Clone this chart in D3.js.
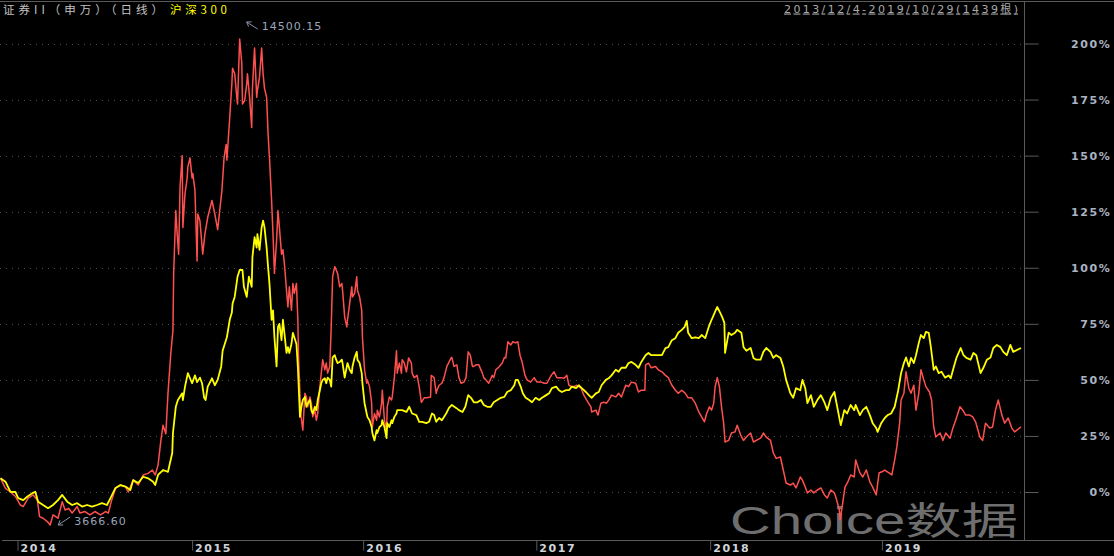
<!DOCTYPE html>
<html>
<head>
<meta charset="utf-8">
<script src="https://cdn.jsdelivr.net/npm/d3@7"></script>
<style>
  body { margin: 0; background: #000; }
  svg { display: block; }
</style>
</head>
<body>
<div id="chart"></div>
<script>
// percent change as [trading day index, value]
const securitiesII = [[0,6.1],[7,1.6],[14,0],[21,-2],[28,-5.8],[32,-6.5],[39,-2.7],[46,-1.3],[52,-3.6],[55,-11],[60,-11.7],[66,-13.2],[70,-14.7],[74,-10.2],[81,-11.7],[87,-4.3],[91,-8],[96,-7.3],[101,-9.4],[108,-6.5],[112,-9.4],[119,-8.7],[126,-10.2],[133,-8.7],[141,-10.2],[148,-8.7],[152,-9.4],[156,-4.3],[162,1.6],[169,3.1],[176,2.4],[180,0],[187,5.3],[194,3.1],[201,7.6],[208,8.3],[214,9.8],[218,7.6],[222,12],[226,23],[229,29.8],[233,26],[236,44],[240,62],[243,72],[244,97.5],[247,125.5],[249,115],[251,106],[253,136],[256,150],[257,118],[260,133],[263,140],[264,145],[267,149],[270,140],[271,142],[274,134.5],[277,103],[278,124],[281,121],[285,106],[288,115],[292,122.5],[298,130],[302,124],[306,117],[312,134.5],[315,149],[318,155],[319,148],[323,167],[326,182],[327,189],[330,186.5],[333,176],[334,173],[337,202],[340,191],[341,173],[344,174.5],[347,182],[348,186.5],[351,176],[354,162.5],[355,180],[358,198],[361,176],[362,179],[365,185],[368,198],[370,186.5],[372,180],[375,176],[377,160],[379,149],[382,130],[384,115],[386,97.5],[389,112],[391,125.5],[393,118],[396,106],[398,108],[400,102],[403,90],[405,82.5],[407,91.5],[410,81],[412,93],[414,88.6],[417,93],[419,76.8],[420,60],[423,35],[426,27.6],[429,44],[431,42.4],[433,38],[436,42.4],[438,39.6],[440,33.5],[443,36.5],[445,32],[447,35],[450,47],[452,53],[454,59],[457,54.5],[459,57.5],[461,53],[464,56],[466,73.6],[468,96],[471,100.5],[473,99],[475,97.5],[478,91.5],[481,93],[482,90],[485,78],[488,73.6],[489,76.8],[492,84],[495,91.5],[496,87],[499,88.6],[502,96],[503,90],[506,87],[509,81],[510,69],[513,54.5],[516,48.5],[517,50],[520,47],[523,39.6],[524,29],[527,35],[530,32],[531,36.5],[534,33.5],[537,39.6],[538,45.4],[541,32],[544,27.6],[545,38],[548,42.4],[551,41],[552,42.4],[555,51],[558,63],[559,53],[562,57.5],[565,53],[566,59],[569,57.5],[572,53.6],[575,59.8],[579,57.5],[580,53],[583,51],[587,52],[590,47],[593,40],[597,42],[601,42],[606,42.4],[607,52],[611,51],[614,44],[615,45.4],[618,47.6],[622,48.5],[625,51],[629,56],[635,59.8],[636,60],[639,56],[643,56.7],[646,51],[649,48.5],[653,49],[656,51],[659,62.5],[662,61],[665,56],[667,56],[670,56.7],[674,56.7],[679,53],[681,51],[684,50],[688,48.5],[693,52],[695,51],[698,54.5],[703,56],[707,57.5],[710,60],[712,59.8],[715,67],[719,65.6],[722,67],[726,66.5],[729,67],[732,61],[735,58],[739,52],[742,50],[747,49],[752,51],[756,49],[762,49],[766,48.5],[770,48.5],[776,52],[780,53.6],[784,51],[790,51],[794,50.7],[798,52],[801,47.6],[805,47],[808,47],[812,47.6],[818,46.3],[822,43.2],[826,41],[832,38],[833,35.7],[839,36.5],[842,34.3],[846,39.6],[850,40],[854,39.6],[857,41],[861,43.2],[867,42.4],[871,44],[875,42.4],[881,47.6],[885,47],[889,49],[895,48.5],[899,44.6],[903,45.4],[908,45.4],[909,56.7],[913,57.5],[917,55.4],[923,56],[927,54.5],[932,53.6],[937,52],[941,51],[946,47.6],[951,45.4],[955,44],[960,45.4],[965,44],[969,42],[974,42],[979,39.6],[984,35.7],[988,33.5],[992,31.3],[995,35],[999,38],[1002,36.5],[1005,39.6],[1007,47],[1010,51],[1013,47],[1016,38],[1019,30.7],[1021,22.3],[1026,23],[1030,26.3],[1035,26.8],[1038,29.8],[1043,25.4],[1047,23],[1051,24.5],[1057,26.3],[1061,22.3],[1065,23],[1071,24],[1075,26.3],[1079,24.5],[1085,23],[1089,17.4],[1093,15],[1099,15.6],[1103,9.8],[1107,4],[1113,3.1],[1117,4],[1121,1.8],[1127,6.7],[1130,5.3],[1134,2.2],[1137,-0.4],[1142,0.9],[1146,-0.4],[1151,0.9],[1156,1.8],[1161,-1.3],[1165,-2.7],[1170,0.9],[1175,-0.4],[1177,-2.2],[1182,-8],[1183,-12.5],[1186,-6.5],[1190,2.2],[1194,4.5],[1198,7.6],[1203,6.7],[1205,14.3],[1211,8.5],[1215,6.7],[1220,9.8],[1225,4.5],[1229,2.2],[1234,-1.3],[1238,8.5],[1242,9],[1246,9.8],[1252,8.5],[1256,7.6],[1260,14.3],[1263,20],[1267,30.7],[1269,41],[1273,44],[1276,53.6],[1280,46.3],[1283,44],[1287,47.6],[1290,36.5],[1294,44],[1297,54.5],[1301,50],[1304,47],[1309,44.6],[1312,41],[1315,29],[1318,24.5],[1324,26.3],[1328,23],[1332,26.3],[1338,24],[1342,28.5],[1346,32],[1352,38],[1356,36.5],[1360,34.3],[1366,34.3],[1370,33.5],[1374,31.3],[1380,24.5],[1384,23],[1388,30.7],[1394,28.5],[1398,29],[1402,36.5],[1406,41],[1411,34.3],[1415,30.7],[1420,33],[1425,28.5],[1429,26.8],[1438,29]];

const csi300 = [[0,6.1],[7,4.6],[14,0.1],[21,0],[25,-2.7],[32,-3.6],[38,-2],[45,-0.5],[49,0.1],[53,-4.3],[60,-5.8],[67,-7.2],[74,-5.8],[81,-3.6],[87,-1.3],[94,-4.3],[101,-5.8],[108,-5],[115,-6.5],[122,-5.8],[129,-6.5],[136,-5.8],[143,-5],[150,-5.8],[155,-2.7],[162,1.8],[169,3.1],[176,2.4],[183,0.9],[187,5.3],[194,4],[201,6.8],[208,6.1],[215,4.6],[218,3.1],[222,7.6],[229,9.8],[236,9],[242,17.4],[243,26.3],[247,38],[250,41],[256,44],[257,41],[260,47],[264,53],[270,48.5],[274,52],[277,49],[281,51],[284,48.5],[287,42],[289,41],[292,47],[298,50.7],[302,47.6],[306,50],[311,56],[313,63],[319,69],[323,76.8],[326,80],[327,84],[330,87],[334,96],[337,99],[341,99],[343,91.5],[347,87],[350,96],[354,91.5],[355,104.7],[358,113.6],[361,109],[362,115],[365,108],[368,118],[370,121],[372,118],[375,109],[377,100.5],[379,93],[382,76.8],[384,81],[386,69],[389,56],[391,73.6],[393,75],[396,67.7],[398,76.8],[400,71],[403,62],[405,64.6],[407,62],[410,66],[412,71],[414,69],[417,66],[419,56],[422,33.5],[424,38],[426,41],[429,42.4],[431,38],[433,39.6],[436,41],[438,36.5],[440,35],[443,38],[445,36.5],[447,41],[450,45.4],[452,48.5],[454,50],[457,50.7],[459,48.5],[461,51],[464,50],[466,47],[468,60],[471,61],[473,59],[475,57.5],[478,58],[481,59],[482,57.5],[485,51],[488,56],[489,57.5],[492,54.5],[495,53],[496,56],[499,60],[502,62.5],[503,59],[506,57.5],[509,53],[510,48.5],[513,39.6],[516,35],[517,33.5],[520,32],[523,29],[524,26.3],[527,23],[530,27.6],[531,26.3],[534,29],[537,29.8],[538,32],[541,29],[544,24],[545,30.7],[548,29],[551,32],[552,30.7],[555,33.5],[558,35],[559,36.5],[562,36.5],[566,36.5],[572,35.7],[576,38],[580,35],[586,34.3],[590,31.3],[594,31.3],[600,30.7],[604,31.3],[608,35],[611,34.3],[614,31.3],[618,33],[622,32],[628,35],[632,37.5],[636,38.8],[642,37.5],[646,36.5],[651,35.7],[655,38],[659,43.2],[663,42],[667,40],[672,40],[677,41],[681,38.8],[686,38],[691,38],[695,40],[700,41],[705,42],[710,42.4],[714,44.6],[719,45.4],[724,47.6],[726,50],[729,50],[733,47],[736,44],[740,42],[745,41],[749,40],[754,42],[759,41],[763,42],[769,43.2],[773,44],[777,46.3],[783,47],[787,45.4],[791,44.6],[797,45.4],[801,45.4],[805,47],[811,46.3],[815,47.6],[819,46.3],[825,44.6],[829,43.2],[833,42],[839,44],[843,44.6],[847,47.6],[853,50],[857,50.7],[861,52],[867,54.5],[871,53.6],[875,55.4],[881,55.4],[885,57.5],[889,58],[895,56.7],[899,55.4],[903,58],[909,61],[913,62],[917,61],[923,61],[927,61],[932,61],[937,64.2],[941,64.6],[946,67.7],[951,68.6],[955,71],[960,72.3],[964,73.6],[967,76.3],[969,71],[974,68.6],[979,69],[984,68.6],[988,70],[993,68.6],[998,73.6],[1002,76.8],[1007,80.4],[1010,82.5],[1014,80],[1017,78],[1020,75.4],[1021,62],[1026,71],[1030,70],[1035,71],[1038,72.3],[1044,71],[1047,64.6],[1051,63],[1057,64.2],[1061,59.8],[1065,59],[1071,59],[1075,62.5],[1079,64.2],[1085,62.5],[1089,59.8],[1093,61],[1099,59.8],[1103,56],[1107,50],[1113,44],[1117,42],[1121,46.3],[1127,45.4],[1130,50],[1134,46.3],[1137,39.6],[1142,43.2],[1146,38],[1151,41],[1156,43.2],[1161,40],[1165,36.5],[1170,42],[1175,44.6],[1179,38],[1184,29.8],[1189,36.5],[1193,35],[1198,38.8],[1203,36.5],[1205,38.8],[1211,34.3],[1215,36.5],[1220,38],[1225,34.3],[1229,30.7],[1234,28.5],[1236,26.8],[1241,30.7],[1246,33],[1250,34.3],[1255,35],[1260,38],[1265,45.4],[1269,53],[1273,57.5],[1276,60],[1280,56],[1283,59.8],[1287,57.5],[1290,61],[1294,66.5],[1297,70],[1301,68.6],[1304,71.4],[1308,71],[1311,64.6],[1315,54.5],[1318,56],[1322,53],[1326,53.6],[1331,51],[1336,52],[1339,50.7],[1343,55.4],[1347,59.8],[1353,64.2],[1357,61],[1361,59.8],[1367,59],[1371,62],[1375,61],[1381,53],[1385,55.4],[1390,59],[1395,60],[1399,64.2],[1404,65.6],[1409,64.6],[1413,62.5],[1418,61],[1423,65.6],[1427,62.5],[1438,64.2]];

const yearLabels = ['2014', '2015', '2016', '2017', '2018', '2019'];
const yearBars = [24, 270, 511, 755, 1000, 1242];
const pctTicks = [0, 25, 50, 75, 100, 125, 150, 175, 200];
const totalBars = 1439;

const titleMain = '证券II（申万）（日线）';
const titleIndex = '沪深300';
const rangeText = '2013/12/4-2019/10/29(1439根)';
const highLabel = '14500.15';
const lowLabel = '3666.60';
const watermark = 'Choice数据';

class CompareChart {

    constructor () {
        this.width = 1114;
        this.height = 556;
        this.plot = {left: 0, right: 1024, top: 2, bottom: 540};

        //add the svg to the div
        this.svg = d3.select('#chart').append('svg')
            .attr('width', this.width)
            .attr('height', this.height)
            .style('background', '#000');

        this.x = d3.scaleLinear().domain([0, totalBars - 1]).range([0.5, 1021]);
        this.y = d3.scaleLinear().domain([0, 200]).range([492, 43.5]);

        this.addFrame();
        this.addAxis();
        this.addTexts();
        this.addLines();
        this.addMarks();
    }

    addFrame () {
        let self = this;

        // dotted grid at every percent tick
        this.svg.append('g')
            .selectAll('line')
            .data(pctTicks)
            .join('line')
            .attr('x1', 0)
            .attr('x2', this.plot.right)
            .attr('y1', d => Math.round(self.y(d)) + 0.5)
            .attr('y2', d => Math.round(self.y(d)) + 0.5)
            .attr('stroke', '#505050')
            .attr('stroke-dasharray', '1,5');

        this.svg.append('line')
            .attr('x1', 0).attr('x2', this.width)
            .attr('y1', 1.5).attr('y2', 1.5)
            .attr('stroke', '#5a5a5a');

        this.svg.append('line')
            .attr('x1', this.plot.right + 0.5).attr('x2', this.plot.right + 0.5)
            .attr('y1', 1.5).attr('y2', this.plot.bottom)
            .attr('stroke', '#5a5a5a');

        this.svg.append('line')
            .attr('x1', 2).attr('x2', this.width)
            .attr('y1', this.plot.bottom + 0.5).attr('y2', this.plot.bottom + 0.5)
            .attr('stroke', '#5a5a5a');

        // watermark sits under the lines
        this.svg.append('text')
            .attr('x', 730)
            .attr('y', 534)
            .attr('textLength', 288)
            .attr('lengthAdjust', 'spacingAndGlyphs')
            .attr('font-family', '"Liberation Sans", "Noto Sans CJK SC", sans-serif')
            .attr('font-size', 38)
            .attr('fill', '#6e6e6e')
            .text(watermark);
    }

    addAxis () {
        let yAxis = this.svg.append('g')
            .attr('class', 'axis axis--y')
            .attr('transform', 'translate(' + (this.plot.right + 0.5) + ', 0)')
            .call(d3.axisRight(this.y).tickValues(pctTicks).tickSize(14).tickFormat(d => d + '%'));

        yAxis.select('.domain').remove();
        yAxis.selectAll('.tick line').attr('stroke', '#5a5a5a');
        yAxis.selectAll('.tick text')
            .attr('x', 87)
            .attr('dy', '0.36em')
            .attr('text-anchor', 'end')
            .attr('fill', '#aab3c2')
            .attr('font-family', '"DejaVu Sans", sans-serif')
            .attr('font-weight', 'bold')
            .attr('font-size', 11)
            .attr('letter-spacing', 1.6);

        let xAxis = this.svg.append('g')
            .attr('class', 'axis axis--x')
            .attr('transform', 'translate(0, ' + (this.plot.bottom + 0.5) + ')')
            .call(d3.axisBottom(this.x).tickValues(yearBars).tickSize(10)
                .tickFormat((d, i) => yearLabels[i]));

        xAxis.select('.domain').remove();
        xAxis.selectAll('.tick line').attr('stroke', '#5a5a5a');
        xAxis.selectAll('.tick text')
            .attr('x', 2.5)
            .attr('y', 11)
            .attr('dy', 0)
            .attr('text-anchor', 'start')
            .attr('fill', '#d0d4da')
            .attr('font-family', '"DejaVu Sans", sans-serif')
            .attr('font-weight', 'bold')
            .attr('font-size', 11)
            .attr('letter-spacing', 1.6);
    }

    addTexts () {
        this.svg.append('text')
            .attr('x', 3).attr('y', 13.5)
            .attr('textLength', 160)
            .attr('font-family', '"Noto Sans CJK SC", sans-serif')
            .attr('font-size', 11.5)
            .attr('fill', '#c4c4c4')
            .text(titleMain);

        this.svg.append('text')
            .attr('x', 170).attr('y', 13.5)
            .attr('textLength', 57)
            .attr('font-family', '"Noto Sans CJK SC", sans-serif')
            .attr('font-size', 11.5)
            .attr('fill', '#ffff00')
            .text(titleIndex);

        this.svg.append('text')
            .attr('x', 784).attr('y', 12.5)
            .attr('textLength', 234)
            .attr('font-family', '"DejaVu Sans", "Noto Sans CJK SC", sans-serif')
            .attr('font-size', 11)
            .attr('fill', '#a8a8a8')
            .attr('text-decoration', 'underline')
            .text(rangeText);
    }

    addLines () {
        let self = this;

        let line = d3.line()
            .x(d => self.x(d[0]))
            .y(d => self.y(d[1]));

        this.svg.append('path')
            .datum(securitiesII)
            .attr('d', line)
            .attr('fill', 'none')
            .attr('stroke', '#ff5050')
            .attr('stroke-width', 1.5)
            .attr('stroke-linejoin', 'round');

        this.svg.append('path')
            .datum(csi300)
            .attr('d', line)
            .attr('fill', 'none')
            .attr('stroke', '#ffff00')
            .attr('stroke-width', 1.8)
            .attr('stroke-linejoin', 'round');
    }

    addMarks () {
        let self = this;

        // highest and lowest points of the red series
        let high = securitiesII.reduce((a, b) => b[1] > a[1] ? b : a);
        let low = securitiesII.reduce((a, b) => b[1] < a[1] ? b : a);

        let marks = [
            {pt: high, head: [7, -17], tail: [18, -10], text: highLabel},
            {pt: low, head: [8, 0], tail: [20, -8], text: lowLabel}
        ];

        marks.forEach(function (m) {
            let px = self.x(m.pt[0]);
            let py = self.y(m.pt[1]);
            let hx = px + m.head[0], hy = py + m.head[1];
            let tx = px + m.tail[0], ty = py + m.tail[1];

            let ang = Math.atan2(ty - hy, tx - hx);
            let g = self.svg.append('g')
                .attr('stroke', '#8a94a6')
                .attr('stroke-width', 1)
                .attr('fill', 'none');

            g.append('line')
                .attr('x1', hx).attr('y1', hy)
                .attr('x2', tx).attr('y2', ty);

            g.append('polyline')
                .attr('points', [
                    [hx + 5 * Math.cos(ang - 0.6), hy + 5 * Math.sin(ang - 0.6)],
                    [hx, hy],
                    [hx + 5 * Math.cos(ang + 0.6), hy + 5 * Math.sin(ang + 0.6)]
                ].map(p => p.join(',')).join(' '));

            self.svg.append('text')
                .attr('x', tx + 4)
                .attr('y', Math.max(hy, ty) + 0.5)
                .attr('font-family', '"DejaVu Sans", sans-serif')
                .attr('font-size', 11)
                .attr('letter-spacing', 1)
                .attr('fill', '#9aa6ba')
                .text(m.text);
        });
    }
}

new CompareChart();
</script>
</body>
</html>
